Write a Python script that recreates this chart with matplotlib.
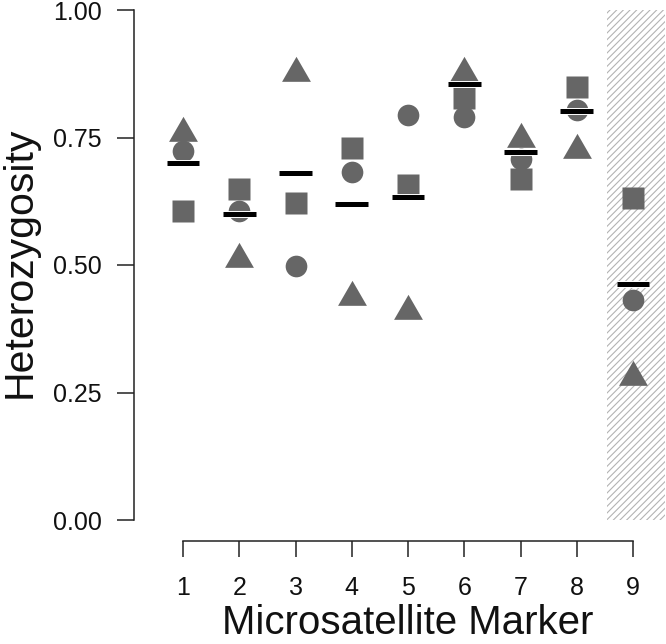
import matplotlib
matplotlib.use("Agg")
import matplotlib.pyplot as plt
import matplotlib.patheffects as pe
from matplotlib.patches import Rectangle

plt.rcParams['font.family'] = ['Liberation Sans', 'DejaVu Sans']
plt.rcParams['hatch.linewidth'] = 0.8

# heterozygosity per microsatellite marker
markers = [1, 2, 3, 4, 5, 6, 7, 8, 9]
circle_vals = [0.724, 0.605, 0.498, 0.683, 0.794, 0.790, 0.707, 0.804, 0.431]
square_vals = [0.606, 0.649, 0.621, 0.729, 0.657, 0.827, 0.669, 0.849, 0.631]
triangle_vals = [0.759, 0.512, 0.877, 0.438, 0.410, 0.877, 0.748, 0.725, 0.281]
mean_vals = [0.700, 0.600, 0.680, 0.620, 0.633, 0.855, 0.722, 0.802, 0.463]
y_ticks = [0.0, 0.25, 0.5, 0.75, 1.0]
y_ticklabels = ['0.00', '0.25', '0.50', '0.75', '1.00']

W, H = 666, 644
fig = plt.figure(figsize=(W / 100, H / 100), dpi=100)
ax = fig.add_axes([134 / W, (H - 541) / H, (W - 134) / W, 531 / H])
ax.set_xlim(1 - 49 / 56.25, 1 + (W - 183) / 56.25)
ax.set_ylim(-21 / 510, 1.0)

gray = '#666666'
ax.add_patch(Rectangle((8.54, 0), 1.03, 1.0, facecolor='white',
                       edgecolor='#b3b3b3', lw=0, hatch='/////', zorder=1))

tri = [(-1, -0.577), (1, -0.577), (0, 1.155)]
ax.plot(markers, triangle_vals, ls='none', marker=tri, ms=24, color=gray,
        mec='none', zorder=3, clip_on=False)
ax.plot(markers, square_vals, ls='none', marker='s', ms=15.8, color=gray,
        mec='none', zorder=3, clip_on=False)
ax.plot(markers, circle_vals, ls='none', marker='o', ms=15.6, color=gray,
        mec='none', zorder=3, clip_on=False)
bars = ax.hlines(mean_vals, [m - 0.29 for m in markers], [m + 0.29 for m in markers],
                 color='black', lw=3.6, zorder=4)
bars.set_path_effects([pe.Stroke(linewidth=5, foreground='white'), pe.Normal()])

for s in ['top', 'right']:
    ax.spines[s].set_visible(False)
ax.spines['left'].set_bounds(0, 1)
ax.spines['bottom'].set_bounds(1, 9)
for s in ['left', 'bottom']:
    ax.spines[s].set_linewidth(1.1)
    ax.spines[s].set_color('#222222')

ax.set_yticks(y_ticks)
ax.set_yticklabels(y_ticklabels)
ax.set_xticks(markers)
ax.tick_params(axis='y', length=12, width=1.1, color='#222222', pad=11,
               labelsize=18, labelcolor='#111111')
ax.tick_params(axis='x', length=11.5, width=1.1, color='#222222', pad=14,
               labelsize=18, labelcolor='#111111')

fig.text(408 / W, 1 - 642 / H, 'Microsatellite Marker', ha='center', va='bottom',
         fontsize=29, color='#111111')
fig.text(20 / W, 1 - 262 / H, 'Heterozygosity', ha='center', va='center',
         rotation=90, fontsize=29.5, color='#111111')

fig.savefig('out.png', dpi=100)
